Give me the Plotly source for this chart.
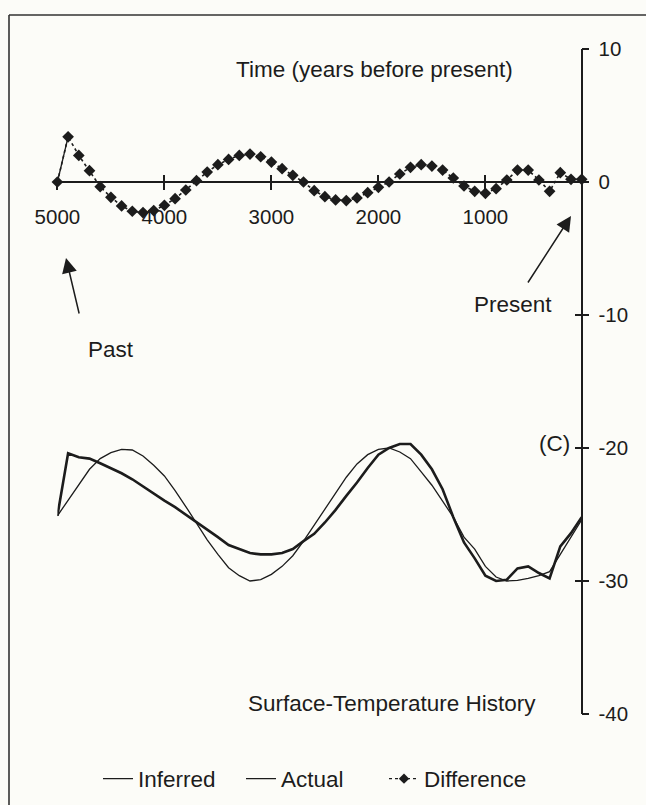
import plotly.graph_objects as go

W, H = 646, 805

years = [5000, 4900, 4800, 4700, 4600, 4500, 4400, 4300, 4200, 4100,
         4000, 3900, 3800, 3700, 3600, 3500, 3400, 3300, 3200, 3100,
         3000, 2900, 2800, 2700, 2600, 2500, 2400, 2300, 2200, 2100,
         2000, 1900, 1800, 1700, 1600, 1500, 1400, 1300, 1200, 1100,
         1000, 900, 800, 700, 600, 500, 400, 300, 200, 100]

actual = [-25.1, -23.9, -22.7, -21.6, -20.8, -20.35, -20.1, -20.15, -20.6, -21.3,
          -22.1, -23.2, -24.4, -25.7, -26.9, -28.0, -29.0, -29.6, -30.0, -29.9,
          -29.5, -28.9, -28.1, -27.0, -25.8, -24.5, -23.3, -22.2, -21.2, -20.5,
          -20.1, -20.0, -20.3, -20.8, -21.8, -22.8, -24.0, -25.2, -26.7, -27.6,
          -28.9, -29.7, -30.0, -29.95, -29.8, -29.6, -29.3, -28.0, -26.6, -25.4]

inferred = [-25.1, -20.4, -20.7, -20.8, -21.15, -21.5, -21.9, -22.35, -22.9, -23.45,
            -23.95, -24.45, -25.0, -25.6, -26.15, -26.7, -27.3, -27.6, -27.9, -28.0,
            -28.0, -27.9, -27.6, -27.0, -26.45, -25.6, -24.65, -23.6, -22.6, -21.5,
            -20.5, -20.0, -19.7, -19.7, -20.5, -21.6, -23.1, -25.2, -27.1, -28.3,
            -29.6, -30.0, -29.9, -29.05, -28.9, -29.4, -29.8, -27.4, -26.4, -25.2]

difference = [0.0, 3.4, 2.0, 0.85, -0.35, -1.15, -1.8, -2.2, -2.3, -2.15,
              -1.75, -1.25, -0.6, 0.1, 0.75, 1.3, 1.7, 2.0, 2.1, 1.9,
              1.5, 1.0, 0.5, 0.0, -0.65, -1.1, -1.35, -1.4, -1.2, -0.8,
              -0.4, 0.0, 0.6, 1.1, 1.3, 1.2, 0.9, 0.3, -0.3, -0.7,
              -0.85, -0.5, 0.15, 0.9, 0.9, 0.15, -0.7, 0.7, 0.2, 0.2]

x_tick_vals = [5000, 4000, 3000, 2000, 1000]
x_tick_text = ["5000", "4000", "3000", "2000", "1000"]
y_tick_vals = [10, 0, -10, -20, -30, -40]
y_tick_text = ["10", "0", "-10", "-20", "-30", "-40"]

FONT = "Liberation Sans, Arial, Helvetica, sans-serif"
INK = "#1c1c1c"

def px(x):
    return x / W

def py(y):
    return 1 - y / H

fig = go.Figure()
fig.add_trace(go.Scatter(x=years, y=inferred, name="Inferred", mode="lines",
                         line=dict(color=INK, width=2.6), cliponaxis=False,
                         showlegend=False))
fig.add_trace(go.Scatter(x=years, y=actual, name="Actual", mode="lines",
                         line=dict(color=INK, width=1.3), cliponaxis=False,
                         showlegend=False))
# the first difference segment is drawn solid in the original
fig.add_trace(go.Scatter(x=years[:2], y=difference[:2], mode="lines",
                         line=dict(color=INK, width=1.3), cliponaxis=False,
                         showlegend=False, hoverinfo="skip"))
fig.add_trace(go.Scatter(x=years, y=difference, name="Difference", mode="lines+markers",
                         line=dict(color=INK, width=1.6, dash="dot"),
                         marker=dict(symbol="diamond", size=9, color=INK),
                         cliponaxis=False, showlegend=False))
# legend entries (thin keys as in the original legend)
fig.add_trace(go.Scatter(x=[None], y=[None], name="Inferred", mode="lines",
                         line=dict(color=INK, width=1.4)))
fig.add_trace(go.Scatter(x=[None], y=[None], name="Actual", mode="lines",
                         line=dict(color=INK, width=1.4)))
fig.add_trace(go.Scatter(x=[None], y=[None], name="Difference", mode="lines+markers",
                         line=dict(color=INK, width=1.4, dash="dot"),
                         marker=dict(symbol="diamond", size=8, color=INK)))
# empty traces to register the overlay axes that carry the inward tick halves
fig.add_trace(go.Scatter(x=[], y=[], xaxis="x2", yaxis="y", showlegend=False, hoverinfo="skip"))
fig.add_trace(go.Scatter(x=[], y=[], xaxis="x", yaxis="y2", showlegend=False, hoverinfo="skip"))

xdom = [px(57.4), px(581.7)]
ydom = [py(714), py(49)]
x0pos = py(182)
y0pos = px(581.7)

common_x = dict(range=[5000, 100], tickvals=x_tick_vals, ticklen=7, tickwidth=1.5,
                tickcolor=INK, showgrid=False, zeroline=False, anchor="free",
                position=x0pos, automargin=False)
common_y = dict(range=[-40, 10], tickvals=y_tick_vals, ticklen=7, tickwidth=1.5,
                tickcolor=INK, showgrid=False, zeroline=False, anchor="free",
                position=y0pos, side="right", automargin=False)

fig.update_layout(
    width=W, height=H,
    margin=dict(l=0, r=0, t=0, b=0, pad=0, autoexpand=False),
    paper_bgcolor="#fcfcf8", plot_bgcolor="rgba(0,0,0,0)",
    font=dict(family=FONT, color=INK, size=22),
    xaxis=dict(domain=xdom, ticks="outside", ticktext=x_tick_text, showline=True,
               linecolor=INK, linewidth=1.5, ticklabelstandoff=10,
               tickfont=dict(size=20.5, family=FONT, color=INK), **common_x),
    xaxis2=dict(overlaying="x", ticks="inside", showticklabels=False, showline=False,
                **common_x),
    yaxis=dict(domain=ydom, ticks="outside", ticktext=y_tick_text, showline=True,
               linecolor=INK, linewidth=1.5, ticklabelstandoff=5,
               tickfont=dict(size=20.5, family=FONT, color=INK), **common_y),
    yaxis2=dict(overlaying="y", ticks="inside", showticklabels=False, showline=False,
                **common_y),
    showlegend=True,
    legend=dict(orientation="h", x=px(98), y=py(779), xanchor="left", yanchor="middle",
                font=dict(size=22.5, family=FONT, color=INK), bgcolor="rgba(0,0,0,0)",
                entrywidth=98, traceorder="normal"),
)

annots = [
    ("Time (years before present)", 374, 69),
    ("Past", 111, 350),
    ("Present", 513, 305),
    ("(C)", 554, 443),
    ("Surface-Temperature History", 392, 703),
]
for txt, x, y in annots:
    fig.add_annotation(text=txt, x=px(x), y=py(y), xref="paper", yref="paper",
                       showarrow=False, xanchor="center", yanchor="middle",
                       font=dict(size=22.5, family=FONT, color=INK))

# arrows (tail offsets given in pixels relative to the head)
for (tx, ty), (hx, hy) in [((79.5, 315), (66, 258)), ((527, 284), (571, 216))]:
    fig.add_annotation(x=px(hx), y=py(hy), ax=tx - hx, ay=ty - hy, xref="paper", yref="paper",
                       axref="pixel", ayref="pixel", text="", showarrow=True,
                       arrowhead=2, arrowsize=2, arrowwidth=1.5, arrowcolor=INK)

# frame: top and left edges (cut off at the image edges elsewhere)
fig.add_shape(type="line", xref="paper", yref="paper", x0=px(9), x1=1.0,
              y0=py(15), y1=py(15), line=dict(color="#333", width=1.6))
fig.add_shape(type="line", xref="paper", yref="paper", x0=px(9), x1=px(9),
              y0=py(15), y1=0.0, line=dict(color="#333", width=1.6))

fig.write_html("out.html")
